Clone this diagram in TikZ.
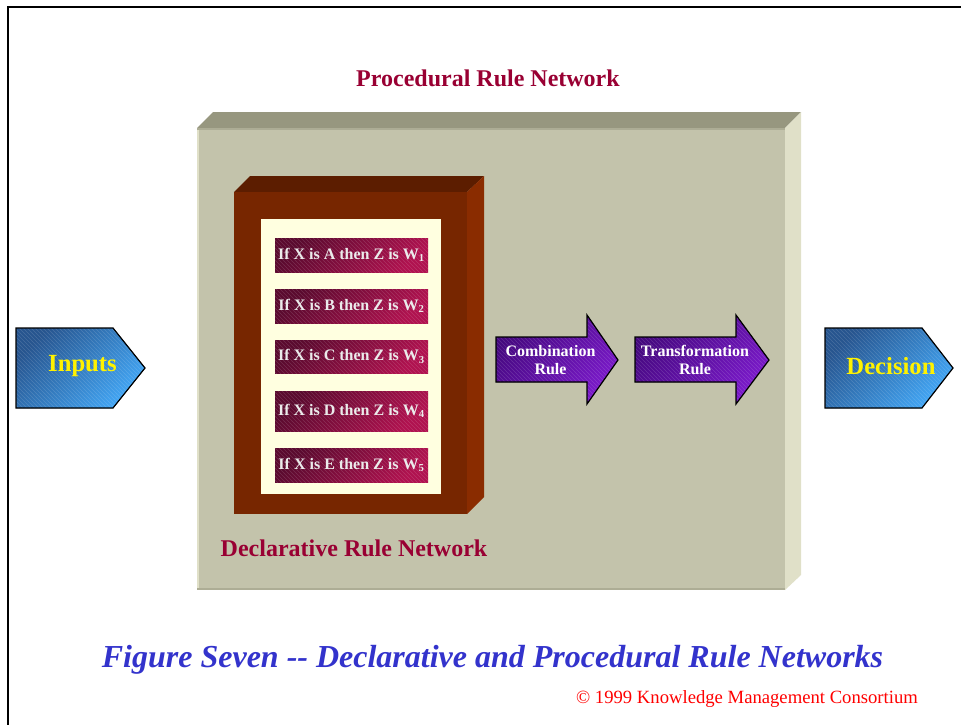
\documentclass[tikz,border=0pt]{standalone}
\usepackage{fontspec}
\setmainfont{Liberation Serif}
\usetikzlibrary{patterns}

% panel colours
\definecolor{panelfront}{HTML}{C3C3AB}
\definecolor{paneltop}{HTML}{97977F}
\definecolor{panelside}{HTML}{E0E0C8}
\definecolor{paneledge}{HTML}{ADAD95}
% declarative block
\definecolor{brickfront}{HTML}{772600}
\definecolor{bricktop}{HTML}{5C1D00}
\definecolor{brickside}{HTML}{8A2C00}
\definecolor{cream}{HTML}{FFFFE0}
% rule bars and arrows
\definecolor{bardark}{HTML}{5A0A2E}
\definecolor{barlight}{HTML}{B0124F}
\definecolor{violetdark}{HTML}{44087E}
\definecolor{violetlight}{HTML}{7C1ACC}
\definecolor{bluedark}{HTML}{27558F}
\definecolor{bluelight}{HTML}{42A6F5}
% text colours
\definecolor{headred}{HTML}{990033}
\definecolor{capblue}{HTML}{3333CC}

\begin{document}
\begin{tikzpicture}[x=0.75pt,y=-0.75pt,
  heading/.style={font=\fontsize{18pt}{21pt}\selectfont\bfseries, text=headred, inner sep=0pt},
  rulebar/.style={top color=bardark, bottom color=barlight, shading angle=45},
  barhatch/.style={pattern=north west lines, pattern color=white, opacity=0.14},
  ruletext/.style={font=\fontsize{12pt}{14pt}\selectfont\bfseries, text=white!92!black, inner sep=0pt},
  stagearrow/.style={top color=violetdark, bottom color=violetlight, shading angle=45},
  stagetext/.style={font=\fontsize{12pt}{13.5pt}\selectfont\bfseries, text=white, align=center, inner sep=0pt},
  portarrow/.style={top color=bluedark, bottom color=bluelight, shading angle=45},
  porttext/.style={font=\fontsize{18.5pt}{21pt}\selectfont\bfseries, text=yellow, inner sep=0pt},
  outline/.style={draw=black, line width=0.9pt, line join=miter}
]
\useasboundingbox (0,0) rectangle (961,725);
\fill[white] (0,0) rectangle (961,725);

% page frame
\draw[line width=1.5pt] (8,725) -- (8,7) -- (961,7);

% procedural panel (3-D slab)
\fill[paneltop] (197,128) -- (213,112) -- (801,112) -- (785,128) -- cycle;
\fill[panelside] (785,128) -- (801,112) -- (801,575) -- (785,590) -- cycle;
\fill[panelfront] (197,128) rectangle (785,590);
\draw[paneledge, line width=1.5pt] (197,129) -- (785,129);
\draw[paneledge, line width=1.5pt] (197,589) -- (785,589);
\draw[panelside, line width=1.5pt] (198,130) -- (198,588);

\node[heading] (proctitle) at (488,78) {Procedural Rule Network};

% declarative block (3-D box with cream insert)
\fill[bricktop] (234,192) -- (250,176) -- (484,176) -- (467,192) -- cycle;
\fill[brickside] (467,192) -- (484,176) -- (484,497) -- (467,514) -- cycle;
\fill[brickfront] (234,192) rectangle (467,514);
\fill[cream] (261,219) rectangle (441,494);

% rule bars
\foreach \i/\ya/\yb/\L in {1/238/272/A, 2/289/323/B, 3/340/373/C, 4/391/431/D, 5/448/482/E}{
  \fill[rulebar] (275,\ya) rectangle (428,\yb);
  \fill[barhatch] (275,\ya) rectangle (428,\yb);
  \node[ruletext] (rule\i) at (351.5,{(\ya+\yb)/2}) {If X is \L\ then Z is W\textsubscript{\i}};
}

\node[heading] (decltitle) at (354,548) {Declarative Rule Network};

% combination and transformation stages
\fill[stagearrow] (496,337) -- (587,337) -- (587,315) -- (618,360) -- (587,404) -- (587,382) -- (496,382) -- cycle;
\fill[barhatch] (496,337) -- (587,337) -- (587,315) -- (618,360) -- (587,404) -- (587,382) -- (496,382) -- cycle;
\draw[outline] (496,337) -- (587,337) -- (587,315) -- (618,360) -- (587,404) -- (587,382) -- (496,382) -- cycle;
\node[stagetext] (combine) at (550.5,360) {Combination\\Rule};

\fill[stagearrow] (635,337) -- (736,337) -- (736,315) -- (769,360) -- (736,404) -- (736,382) -- (635,382) -- cycle;
\fill[barhatch] (635,337) -- (736,337) -- (736,315) -- (769,360) -- (736,404) -- (736,382) -- (635,382) -- cycle;
\draw[outline] (635,337) -- (736,337) -- (736,315) -- (769,360) -- (736,404) -- (736,382) -- (635,382) -- cycle;
\node[stagetext] (transform) at (695,360) {Transformation\\Rule};

% input and output ports
\fill[portarrow] (16,328) -- (113,328) -- (145,368) -- (113,408) -- (16,408) -- cycle;
\fill[barhatch] (16,328) -- (113,328) -- (145,368) -- (113,408) -- (16,408) -- cycle;
\draw[outline] (16,328) -- (113,328) -- (145,368) -- (113,408) -- (16,408) -- cycle;
\node[porttext] (inputs) at (82.5,366) {Inputs};

\fill[portarrow] (825,328) -- (922,328) -- (953,368) -- (922,408) -- (825,408) -- cycle;
\fill[barhatch] (825,328) -- (922,328) -- (953,368) -- (922,408) -- (825,408) -- cycle;
\draw[outline] (825,328) -- (922,328) -- (953,368) -- (922,408) -- (825,408) -- cycle;
\node[porttext] (decision) at (891,366) {Decision};

% caption and credit
\node[font=\fontsize{24pt}{27pt}\selectfont\bfseries\itshape, text=capblue, inner sep=0pt] (caption) at (492.5,660)
  {Figure Seven -{}- Declarative and Procedural Rule Networks};
\node[font=\fontsize{14pt}{16pt}\selectfont, text=red, inner sep=0pt] (credit) at (747,699)
  {© 1999 Knowledge Management Consortium};
\end{tikzpicture}
\end{document}
